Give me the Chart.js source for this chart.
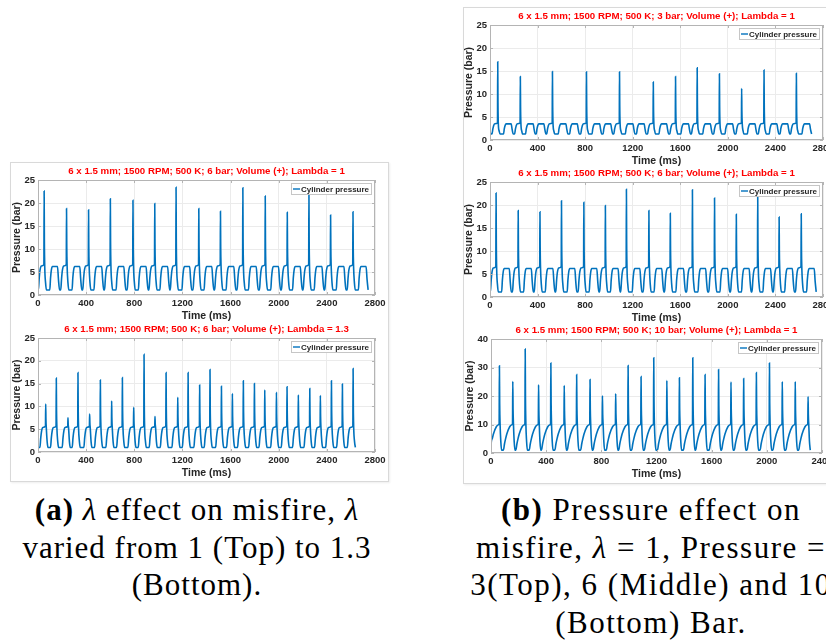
<!DOCTYPE html>
<html>
<head>
<meta charset="utf-8">
<script src="https://cdn.jsdelivr.net/npm/chart.js@4.4.0/dist/chart.umd.min.js"></script>
<style>
  body { margin: 0; width: 826px; height: 644px; overflow: hidden; background: #fff; position: relative; }
  .panel { position: absolute; border: 1px solid #d9d9d9; box-shadow: 1px 1px 2px rgba(0,0,0,0.07); background: #fff; }
  canvas { position: absolute; }
  .cap { position: absolute; width: 600px; font-family: "Liberation Serif", "Times New Roman", serif; font-size: 31px;
         letter-spacing: 1.5px; line-height: 37.5px; text-align: center; white-space: nowrap; color: #000; }
</style>
</head>
<body>
<div class="panel" style="left:10px;top:162px;width:377px;height:318px"></div>
<div class="panel" style="left:463px;top:7px;width:400px;height:475px"></div>

<canvas id="lambda1"></canvas>
<canvas id="lambda13"></canvas>
<canvas id="bar3"></canvas>
<canvas id="bar6"></canvas>
<canvas id="bar10"></canvas>

<div class="cap" style="left:-103px;top:491px;letter-spacing:1px"><b>(a)</b> <i>λ</i> effect on misfire, <i>λ</i><br>varied from 1 (Top) to 1.3<br>(Bottom).</div>
<div class="cap" style="left:351px;top:491px"><b>(b)</b> Pressure effect on<br>misfire, <i>λ</i> = 1, Pressure =<br>3(Top), 6 (Middle) and 10<br>(Bottom) Bar.</div>

<script>
const seriesLabel = 'Cylinder pressure';
const xTicks2800 = [0, 400, 800, 1200, 1600, 2000, 2400, 2800];
const xTicks2400 = [0, 400, 800, 1200, 1600, 2000, 2400];
const yTicks25 = [0, 5, 10, 15, 20, 25];
const yTicks40 = [0, 10, 20, 30, 40];

// one entry per engine cycle (time of TDC in ms), peak pressure in bar, null = misfire
// 6 bar, lambda = 1 (shown top left and middle right)
const tdc6 = [51, 144, 237, 329, 420, 511, 601, 695, 789, 880, 970, 1059, 1147, 1242, 1336, 1426,
              1516, 1609, 1702, 1795, 1888, 1980, 2071, 2161, 2251, 2341, 2431, 2524, 2617, 2708];
const peak6 = [22.6, null, 18.8, null, 18.5, null, 20.9, null, 20.6, null, 19.9, null, 23.4, null, 18.8, null,
               18.2, null, 23.3, null, 21.5, null, 18.0, null, 22.5, null, 17.4, null, 18.1, null];
const trough6 = 1.1, plateau6 = 6.2, start6 = 1.3, end6 = 2747;

// 6 bar, lambda = 1.3
const tdc13 = [64, 152, 249, 332, 429, 518, 612, 701, 795, 881, 972, 1064, 1161, 1247, 1343,
               1429, 1524, 1615, 1706, 1798, 1884, 1981, 2069, 2163, 2258, 2346, 2438, 2529, 2618];
const peak13 = [10.5, 16.2, 7.5, 17.4, 8.3, 15.8, 11.2, 16.3, 9.8, 21.4, 7.8, 17.4, 12.0, 17.4, 14.7,
                18.1, 14.4, 12.8, 15.6, 15.0, 13.6, 13.1, 14.3, 12.5, 13.9, 12.4, 15.6, 14.9, 18.3];
const trough13 = 1.0, plateau13 = 5.3, start13 = 1.0, end13 = 2650;

// 3 bar, lambda = 1
const tdc3 = [65, 160, 255, 345, 435, 525, 620, 716, 811, 904, 997, 1089, 1184, 1278, 1373,
              1467, 1560, 1651, 1742, 1835, 1929, 2022, 2116, 2210, 2304, 2394, 2485, 2576, 2669];
const peak3 = [17.0, null, 13.8, null, null, 14.9, null, null, 14.8, null, null, 14.8, null, null, 12.6,
               null, 13.8, null, 15.7, null, 14.4, null, 11.2, null, 15.2, null, null, 14.5, null];
const trough3 = 1.3, plateau3 = 3.5, start3 = 1.5, end3 = 2709;

// 10 bar, lambda = 1
const tdc10 = [61, 158, 248, 345, 434, 531, 621, 718, 808, 904, 994, 1088, 1180, 1275, 1366,
               1463, 1552, 1650, 1740, 1832, 1924, 2019, 2112, 2206, 2299];
const peak10 = [30.6, 25.1, 36.5, 23.9, 31.6, 23.7, 27.5, 25.8, 20.1, 20.8, 30.7, 26.8, 33.4, 25.4, 26.4,
                33.4, 27.5, 29.3, 24.9, 26.1, 28.2, 31.6, 25.0, 25.0, 19.8];
const trough10 = 1.0, plateau10 = 10.0, start10 = 1.0, end10 = 2324;

// shape of one cycle around TDC: [ms from TDC, share of plateau rise, share of spike]
const firedShape = [[-48, 0, 0], [-41, 0.5, 0], [-34, 0.85, 0], [-24, 1.02, 0], [-2, 1.08, 0],
                    [0, 1, 1], [2, 1, 0.35], [5, 1, 0], [12, 0.3, 0], [19, 0, 0]];
const misfireShape = [[-46, 0, 0], [-40, 0.5, 0], [-33, 0.85, 0], [-24, 1, 0], [18, 1, 0], [26, 0.45, 0], [35, 0, 0]];
const fired10Shape = [[-68, 0, 0], [-60, 0.25, 0], [-52, 0.45, 0], [-44, 0.62, 0], [-36, 0.75, 0], [-28, 0.85, 0],
                      [-20, 0.93, 0], [-10, 0.98, 0], [-2, 1.03, 0], [0, 1, 1], [2, 1, 0.35], [5, 1, 0],
                      [10, 0.35, 0], [16, 0, 0]];

function buildTrace(tdc, peaks, trough, plateau, start, end, shape) {
    const pts = [{ x: 0, y: start }];
    tdc.forEach((t, i) => {
        const pk = peaks[i];
        const sh = pk === null ? misfireShape : shape;
        sh.forEach(([dt, f, s]) => {
            const x = t + dt;
            if (x <= pts[pts.length - 1].x || x > end) return;
            pts.push({ x: x, y: trough + f * (plateau - trough) + s * ((pk || plateau) - plateau) });
        });
    });
    return pts;
}

const frame = {
    id: 'frame',
    afterDraw(chart) {
        const { ctx, chartArea: a, scales } = chart;
        ctx.save();
        ctx.strokeStyle = '#b4b4b4';
        ctx.lineWidth = 1;
        ctx.strokeRect(Math.round(a.left) + 0.5, Math.round(a.top) + 0.5,
                       Math.round(a.right - a.left) - 1, Math.round(a.bottom - a.top) - 1);
        // small inward ticks, matlab style
        ctx.beginPath();
        scales.x.ticks.forEach(t => {
            const px = Math.round(scales.x.getPixelForValue(t.value)) + 0.5;
            ctx.moveTo(px, a.bottom); ctx.lineTo(px, a.bottom - 3);
            ctx.moveTo(px, a.top); ctx.lineTo(px, a.top + 3);
        });
        scales.y.ticks.forEach(t => {
            const py = Math.round(scales.y.getPixelForValue(t.value)) + 0.5;
            ctx.moveTo(a.left, py); ctx.lineTo(a.left + 3, py);
            ctx.moveTo(a.right, py); ctx.lineTo(a.right - 3, py);
        });
        ctx.stroke();

        // legend box inside, top right
        const ds = chart.data.datasets[0];
        ctx.font = 'bold 8px "Liberation Sans", Arial, sans-serif';
        const w = Math.round(ctx.measureText(ds.label).width) + 12, h = 11;
        const x0 = Math.round(a.right) - 4 - w, y0 = Math.round(a.top) + 3;
        ctx.fillStyle = '#fff';
        ctx.fillRect(x0, y0, w, h);
        ctx.strokeStyle = '#c6c6c6';
        ctx.strokeRect(x0 + 0.5, y0 + 0.5, w, h);
        ctx.strokeStyle = ds.borderColor;
        ctx.lineWidth = 1.4;
        ctx.beginPath();
        ctx.moveTo(x0 + 2, y0 + h / 2 + 0.5); ctx.lineTo(x0 + 9, y0 + h / 2 + 0.5);
        ctx.stroke();
        ctx.fillStyle = '#262626';
        ctx.textBaseline = 'middle';
        ctx.fillText(ds.label, x0 + 10, y0 + h / 2 + 1);
        ctx.restore();
    }
};

Chart.defaults.font.family = '"Liberation Sans", Arial, sans-serif';

function drawPanel(id, area, title, points, xMax, xTicks, yMax, yTicks) {
    const cv = document.getElementById(id);
    const yW = 27, xH = 27, titleH = 15, padR = 16;
    cv.width = yW + area.w + padR;
    cv.height = titleH + area.h + xH;
    cv.style.left = (area.x - yW) + 'px';
    cv.style.top = (area.y - titleH) + 'px';

    const tickFont = { size: 9.5, weight: 'bold' };
    const axisTitleFont = { size: 10.5, weight: 'bold' };

    new Chart(cv, {
        type: 'line',
        data: {
            datasets: [{
                label: seriesLabel,
                data: points,
                borderColor: '#0072bd',
                borderWidth: 1.6,
                pointRadius: 0,
                cubicInterpolationMode: 'monotone',
                fill: false
            }]
        },
        options: {
            responsive: false,
            animation: false,
            devicePixelRatio: 1,
            layout: { padding: { left: 0, top: 0, right: padR, bottom: 0 }, autoPadding: false },
            plugins: {
                legend: { display: false },
                tooltip: { enabled: false },
                title: {
                    display: true,
                    text: title,
                    color: '#ff0000',
                    fullSize: false,
                    font: { size: 9.7, weight: 'bold', lineHeight: '12px' },
                    padding: { top: 0, bottom: 3 }
                }
            },
            scales: {
                x: {
                    type: 'linear',
                    min: 0,
                    max: xMax,
                    afterBuildTicks: s => { s.ticks = xTicks.map(v => ({ value: v })); },
                    afterFit: s => { s.height = xH; },
                    grid: { color: '#ebebeb', drawTicks: false },
                    border: { display: false },
                    ticks: { color: '#262626', font: tickFont, padding: 3, maxRotation: 0, autoSkip: false,
                             callback: v => String(v) },
                    title: { display: true, text: 'Time (ms)', color: '#262626', font: axisTitleFont, padding: 0 }
                },
                y: {
                    min: 0,
                    max: yMax,
                    afterBuildTicks: s => { s.ticks = yTicks.map(v => ({ value: v })); },
                    afterFit: s => { s.width = yW; },
                    grid: { color: '#ebebeb', drawTicks: false },
                    border: { display: false },
                    ticks: { color: '#262626', font: tickFont, padding: 3, callback: v => String(v) },
                    title: { display: true, text: 'Pressure (bar)', color: '#262626', font: axisTitleFont, padding: 0 }
                }
            }
        },
        plugins: [frame]
    });
}

const trace6 = buildTrace(tdc6, peak6, trough6, plateau6, start6, end6, firedShape);
const trace13 = buildTrace(tdc13, peak13, trough13, plateau13, start13, end13, firedShape);
const trace3 = buildTrace(tdc3, peak3, trough3, plateau3, start3, end3, firedShape);
const trace10 = buildTrace(tdc10, peak10, trough10, plateau10, start10, end10, fired10Shape);

drawPanel('lambda1', { x: 38, y: 180, w: 337, h: 115 },
    '6 x 1.5 mm; 1500 RPM; 500 K; 6 bar; Volume (+); Lambda = 1', trace6, 2800, xTicks2800, 25, yTicks25);
drawPanel('lambda13', { x: 38, y: 338, w: 337, h: 114 },
    '6 x 1.5 mm; 1500 RPM; 500 K; 6 bar; Volume (+); Lambda = 1.3', trace13, 2800, xTicks2800, 25, yTicks25);
drawPanel('bar3', { x: 490, y: 25, w: 333, h: 115 },
    '6 x 1.5 mm; 1500 RPM; 500 K; 3 bar; Volume (+); Lambda = 1', trace3, 2800, xTicks2800, 25, yTicks25);
drawPanel('bar6', { x: 490, y: 182, w: 333, h: 115 },
    '6 x 1.5 mm; 1500 RPM; 500 K; 6 bar; Volume (+); Lambda = 1', trace6, 2800, xTicks2800, 25, yTicks25);
drawPanel('bar10', { x: 491, y: 339, w: 331, h: 114 },
    '6 x 1.5 mm; 1500 RPM; 500 K; 10 bar; Volume (+); Lambda = 1', trace10, 2400, xTicks2400, 40, yTicks40);
</script>
</body>
</html>
